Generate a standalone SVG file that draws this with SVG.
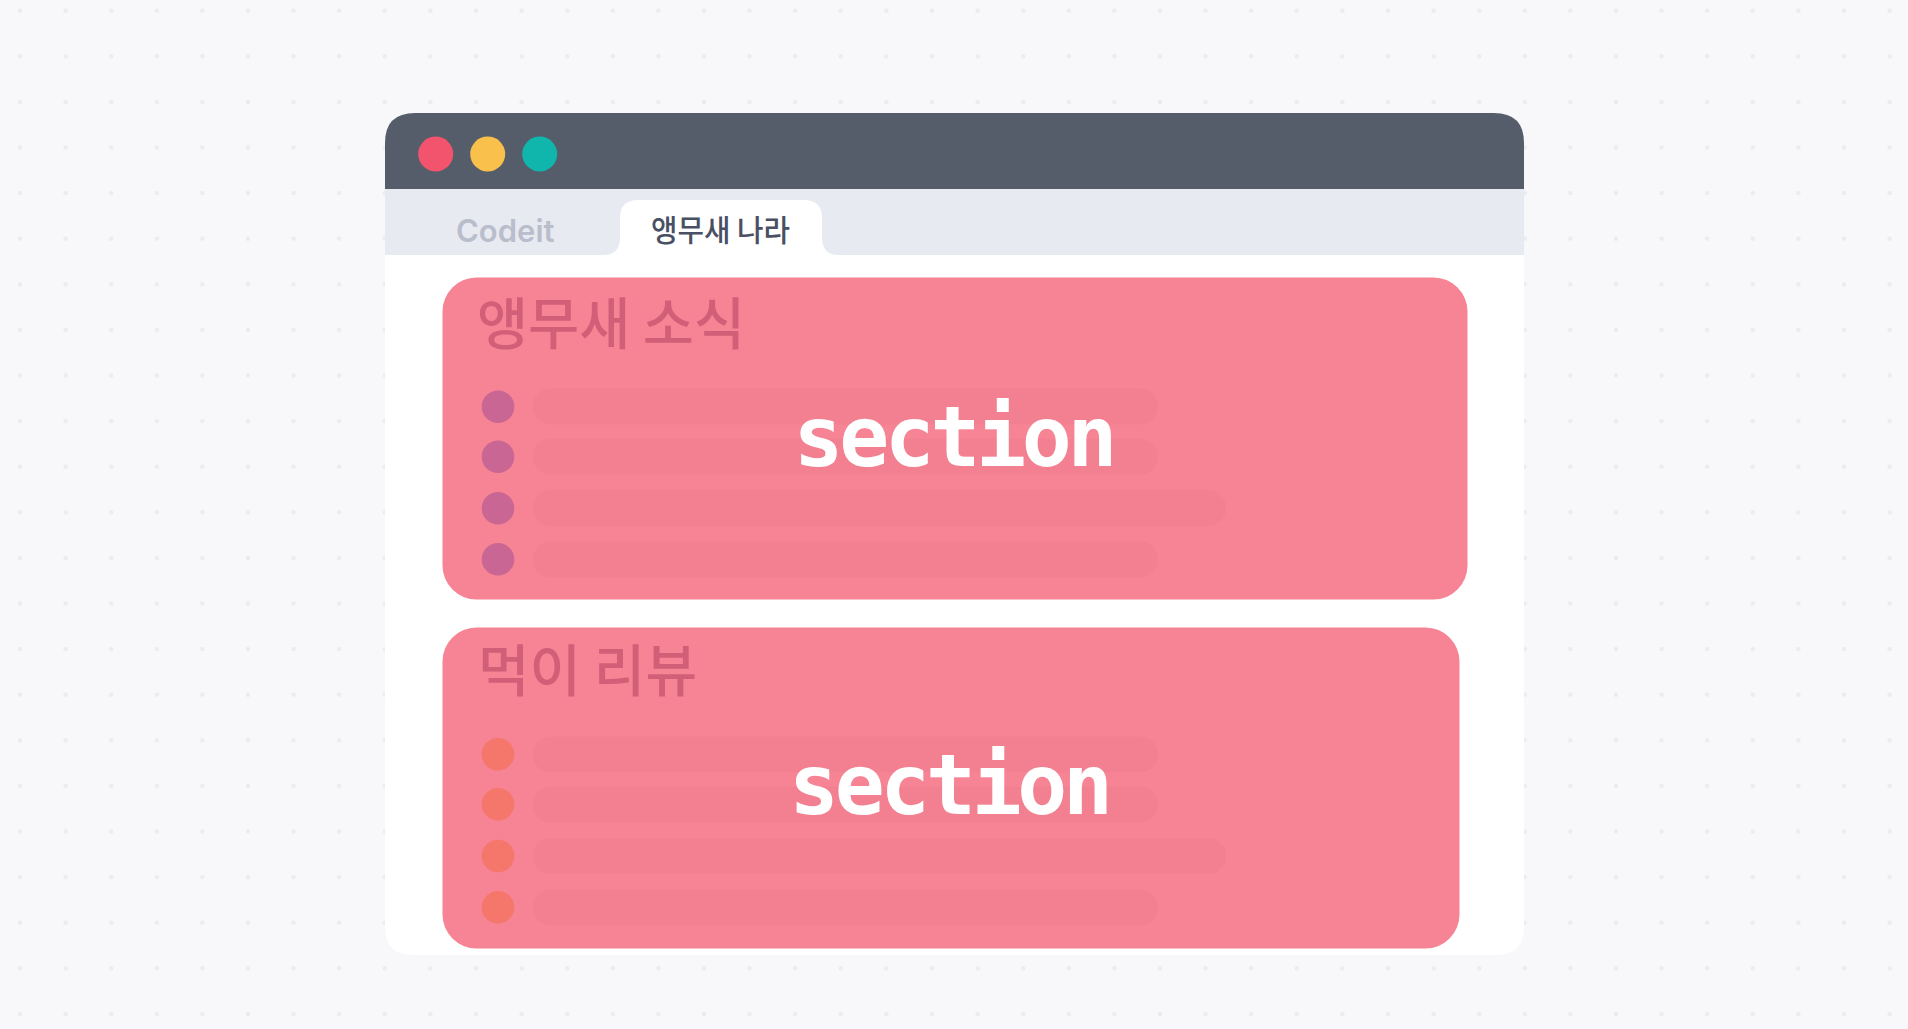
<svg xmlns="http://www.w3.org/2000/svg" width="1908" height="1029" viewBox="0 0 1908 1029">
<defs>
<pattern id="dots" x="-2.8" y="-12.1" width="45.6" height="45.6" patternUnits="userSpaceOnUse">
<circle cx="22.8" cy="22.8" r="2.2" fill="#ebebf0"/>
</pattern>
<style>
.sec{fill:#f68494}
.bar{fill:#f28091}
.b1{fill:#c96694}
.b2{fill:#f5766b}
.title{font-family:"Noto Sans CJK KR","Noto Sans",sans-serif;font-size:56px;font-weight:500;fill:#d25f78}
.tag{font-family:"DejaVu Sans Mono","Liberation Mono",monospace;font-weight:bold;font-size:83px;fill:#ffffff;text-anchor:middle}
</style>
</defs>
<rect width="1908" height="1029" fill="#f8f8fa"/>
<rect width="1908" height="1029" fill="url(#dots)"/>

<g id="window">
<path d="M415,113 H1494 Q1524,113 1524,143 V927 Q1524,955 1496,955 H413 Q385,955 385,927 V143 Q385,113 415,113 Z" fill="#ffffff"/>
<path d="M415,113 H1494 Q1524,113 1524,143 V189 H385 V143 Q385,113 415,113 Z" fill="#555c6a"/>
<rect x="385" y="189" width="1139" height="66" fill="#e8eaf1"/>
<circle cx="435.7" cy="154" r="17.5" fill="#f2546e"/>
<circle cx="487.7" cy="154" r="17.5" fill="#f9c04c"/>
<circle cx="539.7" cy="154" r="17.5" fill="#10b5ac"/>
</g>

<g id="tab-codeit">
<text x="456" y="241.5" font-family="Inter,'Noto Sans',sans-serif" font-weight="600" font-size="31" fill="#babdcb">Codeit</text>
</g>

<g id="tab-active">
<path d="M603,255 Q620,255 620,238 V218 Q620,200 638,200 H804 Q822,200 822,218 V238 Q822,255 839,255 Z" fill="#ffffff"/>
<text x="651" y="240.5" font-family="'Noto Sans CJK KR','Noto Sans',sans-serif" font-weight="500" font-size="30" fill="#4a5063" textLength="139" lengthAdjust="spacingAndGlyphs">앵무새 나라</text>
</g>

<g id="section-1">
<rect class="sec" x="442.5" y="277.5" width="1025" height="322" rx="34"/>
<text class="title" x="477" y="344" textLength="268" lengthAdjust="spacingAndGlyphs">앵무새 소식</text>
<rect class="bar" x="532.7" y="388.5" width="625.3" height="36" rx="18"/>
<rect class="bar" x="532.7" y="438.5" width="625.3" height="36" rx="18"/>
<rect class="bar" x="532.7" y="490" width="693.3" height="36" rx="18"/>
<rect class="bar" x="532.7" y="541.5" width="625.3" height="36" rx="18"/>
<circle class="b1" cx="498" cy="406.7" r="16.3"/>
<circle class="b1" cx="498" cy="456.7" r="16.3"/>
<circle class="b1" cx="498" cy="508.3" r="16.3"/>
<circle class="b1" cx="498" cy="559.3" r="16.3"/>
<text class="tag" x="955.5" y="466" textLength="324">section</text>
</g>

<g id="section-2">
<rect class="sec" x="442.5" y="627.5" width="1017" height="321" rx="34"/>
<text class="title" x="478" y="691" textLength="219" lengthAdjust="spacingAndGlyphs">먹이 리뷰</text>
<rect class="bar" x="532.7" y="736.5" width="625.3" height="36" rx="18"/>
<rect class="bar" x="532.7" y="786.5" width="625.3" height="36" rx="18"/>
<rect class="bar" x="532.7" y="838" width="693.3" height="36" rx="18"/>
<rect class="bar" x="532.7" y="889.5" width="625.3" height="36" rx="18"/>
<circle class="b2" cx="498" cy="754.3" r="16.3"/>
<circle class="b2" cx="498" cy="804.3" r="16.3"/>
<circle class="b2" cx="498" cy="856" r="16.3"/>
<circle class="b2" cx="498" cy="907.3" r="16.3"/>
<text class="tag" x="951" y="814" textLength="324">section</text>
</g>

<g id="connectors"></g>
</svg>
